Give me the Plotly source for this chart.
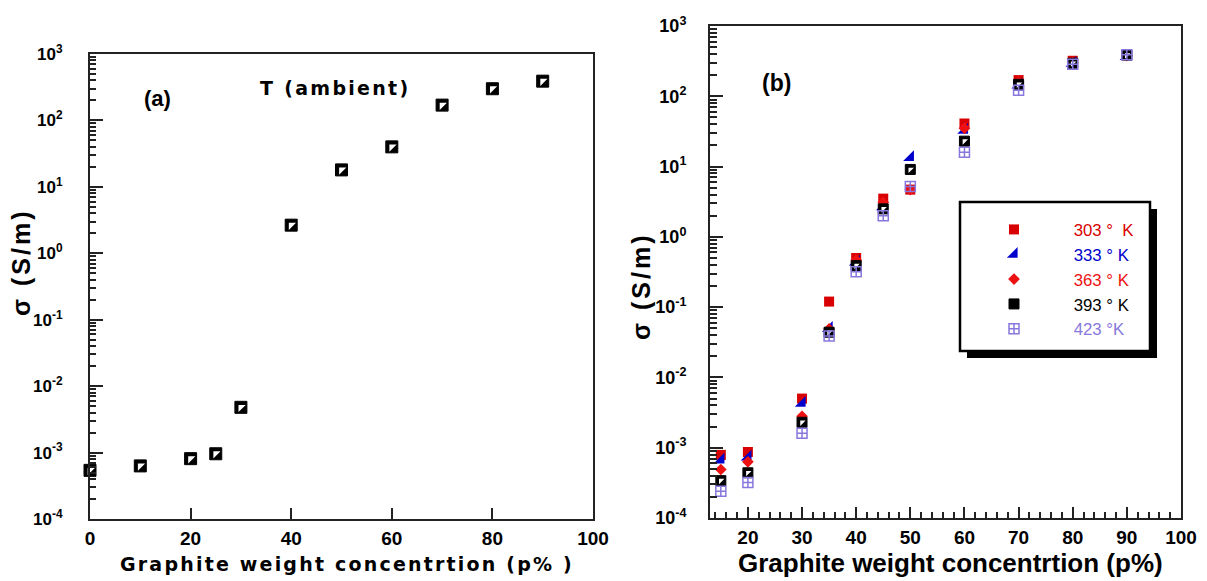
import plotly.graph_objects as go

W, H = 1207, 581

# ---- data (a): ambient temperature ----
xa = [0, 10, 20, 25, 30, 40, 50, 60, 70, 80, 90]
ya = [5.4e-4, 6.3e-4, 8.1e-4, 9.6e-4, 4.8e-3, 2.65, 18, 40, 170, 300, 390]

# ---- data (b): temperatures ----
xb = [15, 20, 30, 35, 40, 45, 50, 60, 70, 80, 90]
y303 = [7.9e-4, 8.7e-4, 5.0e-3, 0.12, 0.50, 3.5, 4.7, 41, 170, 320, 390]
y333 = [6.7e-4, 7.4e-4, 4.3e-3, 0.050, 0.44, 2.7, 13.5, 33, 145, 295, 370]
y363 = [4.9e-4, 6.3e-4, 2.8e-3, 0.049, 0.47, 3.1, 4.7, 35, 160, 300, 380]
y393 = [3.4e-4, 4.4e-4, 2.3e-3, 0.044, 0.39, 2.5, 9.1, 23, 148, 295, 385]
y423 = [2.4e-4, 3.2e-4, 1.6e-3, 0.039, 0.32, 2.0, 5.2, 16, 122, 285, 390]

labels = ["303 °  K", "333 ° K", "363 ° K", "393 ° K", "423 °K"]
colors = ["#d80000", "#0000cc", "#ee1111", "#000000", "#8877dd"]

ytick_vals = [1e-4, 1e-3, 1e-2, 1e-1, 1e0, 1e1, 1e2, 1e3]
ytick_text = ["10<sup>-4</sup>", "10<sup>-3</sup>", "10<sup>-2</sup>", "10<sup>-1</sup>",
              "10<sup>0</sup>", "10<sup>1</sup>", "10<sup>2</sup>", "10<sup>3</sup>"]


def px(x):
    return x / W


def py(y):
    return 1 - y / H


def leg(i):
    pad = "\u00a0" * 4
    return f"<span style='color:{colors[i]}'>{pad}{labels[i]}</span>"


BF = "Liberation Sans"
fig = go.Figure()

# panel (a): half-filled squares
fig.add_trace(go.Scatter(x=xa, y=ya, mode="markers", xaxis="x", yaxis="y",
                         marker=dict(symbol="square", size=12, color="black",
                                     line=dict(color="black", width=1)),
                         showlegend=False, cliponaxis=False, hoverinfo="skip"))
fig.add_trace(go.Scatter(x=xa, y=ya, mode="markers", xaxis="x", yaxis="y",
                         marker=dict(symbol="triangle-nw", size=8, color="white",
                                     line=dict(width=0)),
                         showlegend=False, cliponaxis=False, hoverinfo="skip"))

# panel (b)
fig.add_trace(go.Scatter(x=xb, y=y303, mode="markers", xaxis="x2", yaxis="y2",
                         name=leg(0),
                         marker=dict(symbol="square", size=10, color=colors[0]),
                         cliponaxis=False))
fig.add_trace(go.Scatter(x=xb, y=y333, mode="markers", xaxis="x2", yaxis="y2",
                         name=leg(1),
                         marker=dict(symbol="triangle-se", size=12, color=colors[1]),
                         cliponaxis=False))
fig.add_trace(go.Scatter(x=xb, y=y363, mode="markers", xaxis="x2", yaxis="y2",
                         name=leg(2),
                         marker=dict(symbol="diamond", size=9, color=colors[2]),
                         cliponaxis=False))
fig.add_trace(go.Scatter(x=xb, y=y393, mode="markers", xaxis="x2", yaxis="y2",
                         name=leg(3), legendgroup="393",
                         marker=dict(symbol="square", size=10, color="black",
                                     line=dict(color="black", width=1)),
                         cliponaxis=False))
fig.add_trace(go.Scatter(x=xb, y=y393, mode="markers", xaxis="x2", yaxis="y2",
                         legendgroup="393", showlegend=False,
                         marker=dict(symbol="triangle-nw", size=6, color="white",
                                     line=dict(width=0)),
                         cliponaxis=False, hoverinfo="skip"))
fig.add_trace(go.Scatter(x=xb, y=y423, mode="markers", xaxis="x2", yaxis="y2",
                         name=leg(4),
                         marker=dict(symbol="square-cross-open", size=10, color=colors[4],
                                     line=dict(width=1.5)),
                         cliponaxis=False))

axis_line = dict(showline=True, linecolor="#222", linewidth=2, mirror=True,
                 showgrid=False, zeroline=False, automargin=False)
tickfont = dict(family=BF, size=19, color="black", weight="bold")

fig.update_layout(
    template="none",
    width=W, height=H,
    margin=dict(l=0, r=0, t=0, b=0, pad=0),
    paper_bgcolor="white", plot_bgcolor="white",
    font=dict(family=BF, color="black"),
    showlegend=True,
    xaxis=dict(domain=[px(90), px(593)], range=[0, 100], anchor="y",
               tickmode="linear", tick0=0, dtick=20, ticks="inside", ticklen=11,
               tickwidth=2, tickcolor="#222", tickfont=tickfont,
               ticklabelstandoff=1, **axis_line),
    yaxis=dict(domain=[py(519), py(54)], type="log", range=[-4, 3], anchor="x",
               tickmode="array", tickvals=ytick_vals, ticktext=ytick_text,
               ticks="inside", ticklen=13,
               tickwidth=2, tickcolor="#222",
               tickfont=dict(family=BF, size=17, color="black", weight="bold"),
               ticklabelstandoff=22,
               minor=dict(ticks="inside", ticklen=6, dtick="D1", tickcolor="#222", tickwidth=1.5),
               **axis_line),
    xaxis2=dict(domain=[px(710), px(1181)], range=[13, 100], anchor="y2",
                tickmode="linear", tick0=0, dtick=10, ticks="inside", ticklen=11,
                tickwidth=2, tickcolor="#222", tickfont=tickfont,
                ticklabelstandoff=1,
                minor=dict(ticks="inside", ticklen=6, dtick=2, tickcolor="#222", tickwidth=1.5),
                **axis_line),
    yaxis2=dict(domain=[py(518), py(26)], type="log", range=[-4, 3], anchor="x2",
                tickmode="array", tickvals=ytick_vals, ticktext=ytick_text,
                ticks="inside", ticklen=13,
                tickwidth=2, tickcolor="#222",
                tickfont=dict(family=BF, size=18, color="black", weight="bold"),
                ticklabelstandoff=18,
                minor=dict(ticks="inside", ticklen=7, dtick="D1", tickcolor="#222", tickwidth=1.5),
                **axis_line),
    legend=dict(x=px(973), y=py(212), xanchor="left", yanchor="top",
                bgcolor="rgba(0,0,0,0)", borderwidth=0,
                font=dict(family="Liberation Sans Narrow, Liberation Sans", size=16.8, color="black"),
                itemwidth=72, tracegroupgap=0),
    shapes=[
        dict(type="rect", xref="paper", yref="paper",
             x0=px(967), x1=px(1157), y0=py(358), y1=py(209),
             fillcolor="black", line=dict(width=0)),
        dict(type="rect", xref="paper", yref="paper",
             x0=px(960), x1=px(1150), y0=py(351), y1=py(202),
             fillcolor="white", line=dict(color="black", width=2.5)),
    ],
    annotations=[
        dict(text="<span style='letter-spacing:3px'>σ (S/m)</span>",
             x=px(21), y=py(262), xref="paper", yref="paper",
             xanchor="center", yanchor="middle",
             showarrow=False, textangle=-90,
             font=dict(family=BF, size=25, color="black", weight="bold")),
        dict(text="<span style='letter-spacing:3px'>σ (S/m)</span>",
             x=px(641), y=py(286), xref="paper", yref="paper",
             xanchor="center", yanchor="middle",
             showarrow=False, textangle=-90,
             font=dict(family=BF, size=25, color="black", weight="bold")),
        dict(text="<span style='letter-spacing:2.2px'>Graphite weight concentrtion (p% )</span>",
             x=px(347), y=py(564),
             xref="paper", yref="paper", showarrow=False,
             xanchor="center", yanchor="middle",
             font=dict(family="DejaVu Sans", size=19, color="black", weight="bold")),
        dict(text="Graphite weight concentrtion (p%)", x=px(950), y=py(563),
             xref="paper", yref="paper", showarrow=False,
             xanchor="center", yanchor="middle",
             font=dict(family=BF, size=26, color="black", weight="bold")),
        dict(text="(a)", x=px(157), y=py(99), xref="paper", yref="paper", showarrow=False,
             xanchor="center", yanchor="middle",
             font=dict(family=BF, size=22, color="black", weight="bold")),
        dict(text="<span style='letter-spacing:2.3px'>T (ambient)</span>",
             x=px(335), y=py(88), xref="paper", yref="paper", showarrow=False,
             xanchor="center", yanchor="middle",
             font=dict(family="DejaVu Sans", size=19, color="black", weight="bold")),
        dict(text="(b)", x=px(777), y=py(83), xref="paper", yref="paper", showarrow=False,
             xanchor="center", yanchor="middle",
             font=dict(family=BF, size=23, color="black", weight="bold")),
    ],
)

fig.write_html("out.html")
